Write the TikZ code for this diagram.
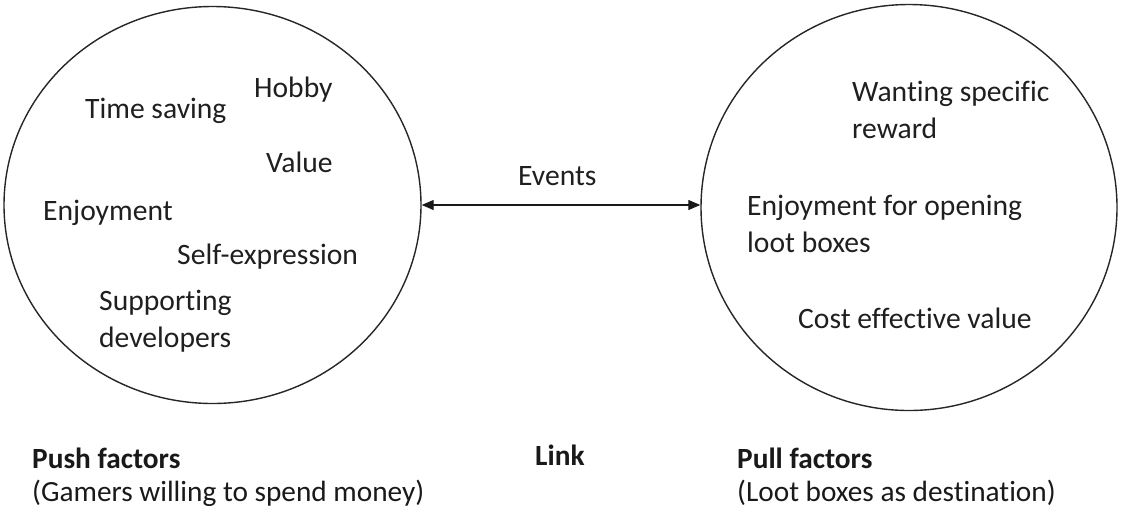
\documentclass[tikz,border=0pt]{standalone}
\usepackage{fontspec}
\setmainfont{Carlito}[Ligatures=NoCommon]
\usetikzlibrary{shapes.geometric,arrows.meta}
\tikzset{
  ring/.style={draw=black!85, line width=1.4pt, ellipse, inner sep=0pt},
  item/.style={anchor=base west, inner sep=0pt, align=left, text=black!88,
    font=\fontsize{29.6}{37}\selectfont},
  caption/.style={anchor=base west, inner sep=0pt, align=left, text=black!90,
    font=\fontsize{29.3}{33}\selectfont},
  link/.style={line width=1.2pt, draw=black!90, {Triangle[length=12pt,width=10pt]}-{Triangle[length=12pt,width=10pt]}}
}
\begin{document}
\begin{tikzpicture}[x=1pt,y=-1pt]
\useasboundingbox (0,0) rectangle (1121,515);
\node[ring, minimum width=417pt, minimum height=397pt] (L) at (212.5,205) {};
\node[ring, minimum width=416pt, minimum height=406pt] (R) at (909,207.5) {};
% left items (anchor = baseline of the last line)
\node[item] (hobby) at (254,97) {Hobby};
\node[item] (time) at (85,118) {Time saving};
\node[item] (value) at (266,172) {Value};
\node[item] (enjoy) at (43,220) {Enjoyment};
\node[item] (self) at (177,264) {Self-expression};
\node[item] (support) at (99,347) {Supporting\\developers};
% right items
\node[item] (want) at (852,138) {Wanting specific\\reward};
\node[item] (open) at (747,252) {Enjoyment for opening\\loot boxes};
\node[item] (cost) at (798,328) {Cost effective value};
% link
\draw[link] (L.east) -- (L.east -| R.west);
\node[item] (events) at (518,185) {Events};
% captions
\node[caption] (push) at (32,501) {\textbf{Push factors}\\(Gamers willing to spend money)};
\node[caption] (linklbl) at (535,465) {\textbf{Link}};
\node[caption] (pull) at (737,501) {\textbf{Pull factors}\\(Loot boxes as destination)};
\end{tikzpicture}
\end{document}
